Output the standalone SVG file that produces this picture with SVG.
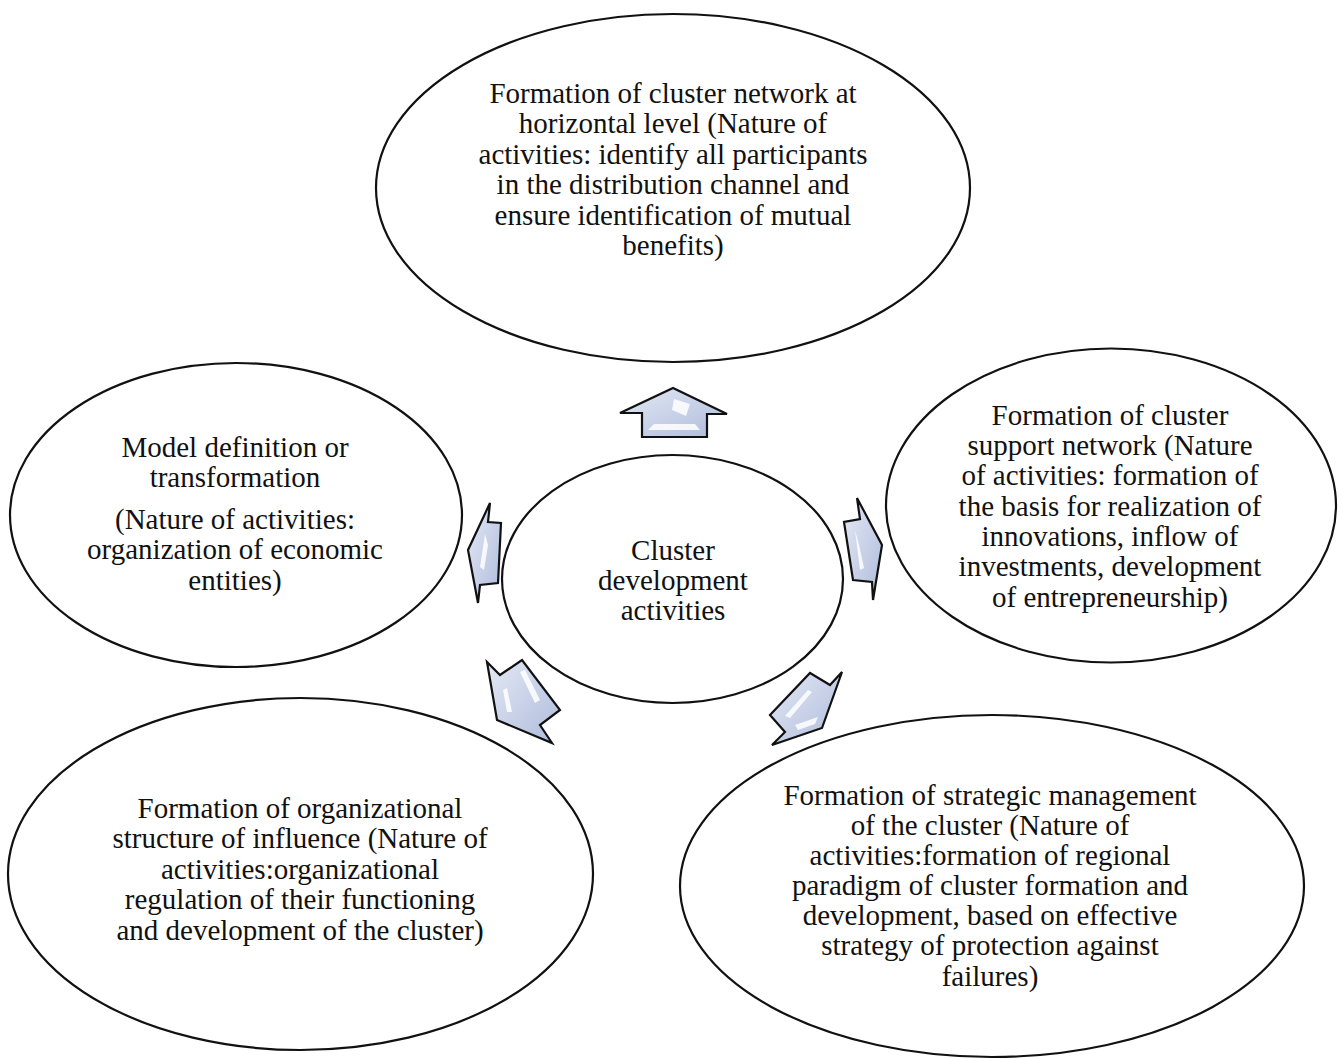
<svg xmlns="http://www.w3.org/2000/svg" width="1343" height="1059" viewBox="0 0 1343 1059">
<style>
.node{fill:#fff;stroke:#111;stroke-width:2.2}
.t{font-family:"Liberation Serif","Times New Roman",serif;font-size:29px;fill:#111;text-anchor:middle}
.arr{fill:url(#ag);stroke:#111;stroke-width:2.2;stroke-linejoin:miter}
.hl{fill:#fff;opacity:0.85}
</style>
<defs>
<linearGradient id="ag" x1="0" y1="0" x2="1" y2="1">
<stop offset="0" stop-color="#e4e9f5"/>
<stop offset="1" stop-color="#aebbdb"/>
</linearGradient>
</defs>
<rect width="1343" height="1059" fill="#fff"/>
<g id="connectors">
<g id="arrow-up">
<polygon class="arr" points="620,413 642,413 642,437 707,437 707,414 727,414 673,388"/>
<polygon class="hl" points="674,399 690,404 686,416 672,410"/>
<polygon class="hl" points="648,430 700,430 695,424 654,424"/>
</g>
<g id="arrow-left">
<polygon class="arr" points="490,503 488,522 501,523 498,583 480,585 478,603 468,550"/>
<polygon class="hl" points="485,534 488,545 484,570 480,567"/>
</g>
<g id="arrow-right">
<polygon class="arr" points="857,498 860,519 844,522 853,580 872,582 873,600 882,545"/>
<polygon class="hl" points="855,530 859,545 864,568 860,570"/>
</g>
<g id="arrow-bl">
<polygon class="arr" points="487,662 500,675 522,660 560,710 540,725 552,743 497,720"/>
<polygon class="hl" points="520,672 525,670 540,700 535,703"/>
<polygon class="hl" points="503,690 507,688 512,712 507,712"/>
</g>
<g id="arrow-br">
<polygon class="arr" points="770,715 810,673 830,685 842,672 822,728 772,745 785,732"/>
<polygon class="hl" points="808,690 812,692 790,718 785,716"/>
<polygon class="hl" points="795,725 818,717 815,724 798,730"/>
</g>
</g>
<g id="node-top">
<ellipse class="node" cx="673" cy="188" rx="297" ry="174"/>
<text class="t" x="673" y="103">Formation of cluster network at</text>
<text class="t" x="673" y="133">horizontal level (Nature of</text>
<text class="t" x="673" y="164">activities:  identify all participants</text>
<text class="t" x="673" y="194">in the distribution channel and</text>
<text class="t" x="673" y="225">ensure identification of mutual</text>
<text class="t" x="673" y="255">benefits)</text>
</g>
<g id="node-center">
<ellipse class="node" cx="672.5" cy="579" rx="170.5" ry="124"/>
<text class="t" x="673" y="560">Cluster</text>
<text class="t" x="673" y="590">development</text>
<text class="t" x="673" y="620">activities</text>
</g>
<g id="node-left">
<ellipse class="node" cx="236" cy="515" rx="226" ry="152"/>
<text class="t" x="235" y="457">Model definition or</text>
<text class="t" x="235" y="487">transformation</text>
<text class="t" x="235" y="529">(Nature of activities:</text>
<text class="t" x="235" y="559">organization of economic</text>
<text class="t" x="235" y="590">entities)</text>
</g>
<g id="node-right">
<ellipse class="node" cx="1111" cy="505.5" rx="225" ry="157"/>
<text class="t" x="1110" y="425">Formation of cluster</text>
<text class="t" x="1110" y="455">support network (Nature</text>
<text class="t" x="1110" y="485">of activities:  formation of</text>
<text class="t" x="1110" y="516">the basis for realization  of</text>
<text class="t" x="1110" y="546">innovations, inflow of</text>
<text class="t" x="1110" y="576">investments, development</text>
<text class="t" x="1110" y="607">of entrepreneurship)</text>
</g>
<g id="node-bottom-left">
<ellipse class="node" cx="300.5" cy="874" rx="292.5" ry="176"/>
<text class="t" x="300" y="818">Formation of organizational</text>
<text class="t" x="300" y="848">structure of influence (Nature of</text>
<text class="t" x="300" y="879">activities:organizational</text>
<text class="t" x="300" y="909">regulation of their functioning</text>
<text class="t" x="300" y="940">and development of the cluster)</text>
</g>
<g id="node-bottom-right">
<ellipse class="node" cx="992" cy="886" rx="312" ry="171"/>
<text class="t" x="990" y="805">Formation of strategic management</text>
<text class="t" x="990" y="835">of the cluster (Nature of</text>
<text class="t" x="990" y="865">activities:formation of regional</text>
<text class="t" x="990" y="895">paradigm of cluster formation and</text>
<text class="t" x="990" y="925">development, based on effective</text>
<text class="t" x="990" y="955">strategy  of protection against</text>
<text class="t" x="990" y="986">failures)</text>
</g>
</svg>
